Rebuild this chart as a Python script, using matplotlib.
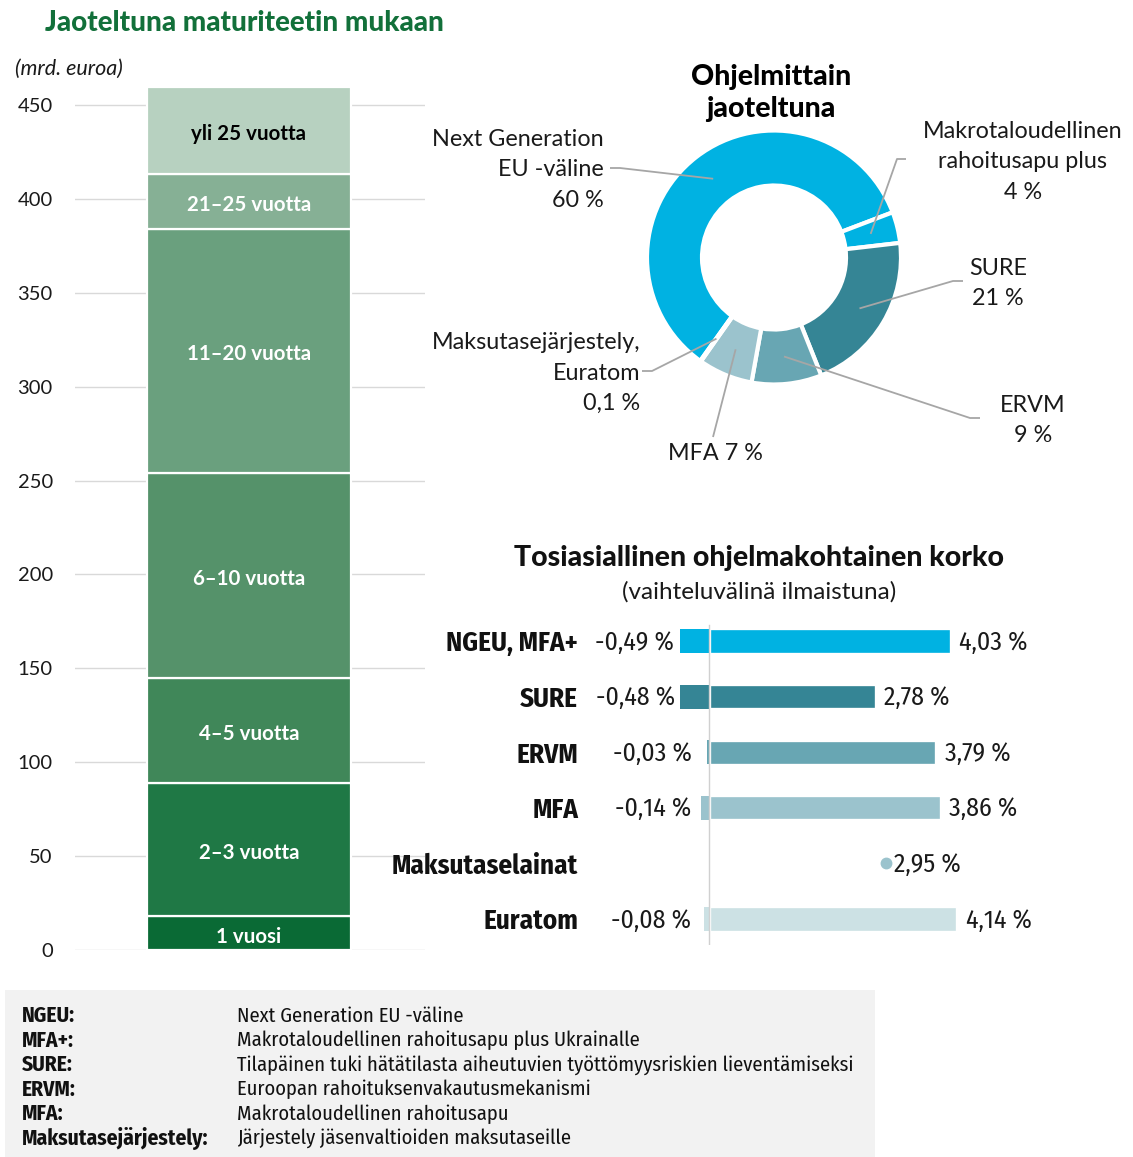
import matplotlib
matplotlib.use('Agg')
import matplotlib.pyplot as plt
from matplotlib import font_manager
from matplotlib.patches import Rectangle
import numpy as np

names = {f.name for f in font_manager.fontManager.ttflist}
MAIN = 'Lato' if 'Lato' in names else 'DejaVu Sans'
COND = MAIN
for cand in ('Fira Sans Condensed', 'IBM Plex Sans Condensed', 'Asap Condensed', 'Liberation Sans Narrow'):
    if cand in names:
        COND = cand
        break
plt.rcParams['font.family'] = [MAIN, 'DejaVu Sans']

# ---------------- data ----------------
maturity_labels = ['1 vuosi', '2–3 vuotta', '4–5 vuotta', '6–10 vuotta',
                   '11–20 vuotta', '21–25 vuotta', 'yli 25 vuotta']
maturity_values = [18, 71, 56, 109, 130, 29, 46.5]
maturity_colors = ['#0A6A35', '#1F7845', '#408759', '#55926A',
                   '#6AA07E', '#86B095', '#B7D1C0']
y_ticks = [0, 50, 100, 150, 200, 250, 300, 350, 400, 450]

programme_labels = ['Next Generation\nEU -väline\n60 %',
                    'Makrotaloudellinen\nrahoitusapu plus\n4 %',
                    'SURE\n21 %', 'ERVM\n9 %', 'MFA 7 %',
                    'Maksutasejärjestely,\nEuratom\n0,1 %']
programme_shares = [60, 4, 21, 9, 7, 0.1]
programme_colors = ['#00B2E2', '#00B2E2', '#358595', '#68A6B3', '#9BC3CD', '#CCE1E4']

rate_categories = ['NGEU, MFA+', 'SURE', 'ERVM', 'MFA', 'Maksutaselainat', 'Euratom']
rate_low = [-0.49, -0.48, -0.03, -0.14, None, -0.08]
rate_high = [4.03, 2.78, 3.79, 3.86, 2.95, 4.14]
rate_colors = ['#00B2E2', '#358595', '#68A6B3', '#9BC3CD', '#9BC3CD', '#CCE1E4']

abbrev_terms = ['NGEU:', 'MFA+:', 'SURE:', 'ERVM:', 'MFA:', 'Maksutasejärjestely:']
abbrev_desc = ['Next Generation EU -väline',
               'Makrotaloudellinen rahoitusapu plus Ukrainalle',
               'Tilapäinen tuki hätätilasta aiheutuvien työttömyysriskien lieventämiseksi',
               'Euroopan rahoituksenvakautusmekanismi',
               'Makrotaloudellinen rahoitusapu',
               'Järjestely jäsenvaltioiden maksutaseille']

def fmt(v):
    return ('%.2f %%' % v).replace('.', ',')

# ---------------- figure ----------------
W, H = 1133, 1157
fig = plt.figure(figsize=(W / 100, H / 100), dpi=100)
fig.patch.set_facecolor('white')

def ax_px(x0, y0, x1, y1, **kw):
    return fig.add_axes([x0 / W, 1 - y1 / H, (x1 - x0) / W, (y1 - y0) / H], **kw)

ov = ax_px(0, 0, W, H)
ov.set_xlim(0, W)
ov.set_ylim(H, 0)
ov.axis('off')
ov.set_zorder(10)
ov.patch.set_alpha(0)

# ---------------- stacked maturity bar ----------------
pxu = (950 - 105) / 450.0
top_val = 460
axb = ax_px(75, 950 - top_val * pxu, 425, 950)
bottoms = np.concatenate([[0], np.cumsum(maturity_values)[:-1]])
axb.bar([0.497] * len(maturity_values), maturity_values, bottom=bottoms, width=0.583,
        color=maturity_colors, edgecolor='white', linewidth=1.6, zorder=3)
for lab, v, b in zip(maturity_labels, maturity_values, bottoms):
    axb.annotate(lab, (0.497, b + v / 2), xytext=(0, -2.5), textcoords='offset points',
                 ha='center', va='center', fontsize=14.8, fontweight='bold',
                 color='black' if lab.startswith('yli') else 'white', zorder=4)
axb.set_xlim(0, 1)
axb.set_ylim(0, top_val)
axb.set_yticks(y_ticks)
axb.set_yticklabels([str(t) for t in y_ticks], fontsize=14.5, color='#1A1A1A')
axb.set_xticks([])
axb.yaxis.grid(True, color='#D9D9D9', linewidth=1)
axb.set_axisbelow(True)
axb.tick_params(axis='y', length=0, pad=16)
for s in axb.spines.values():
    s.set_visible(False)
axb.patch.set_alpha(0)

ov.text(45, 23, 'Jaoteltuna maturiteetin mukaan', fontsize=20, fontweight='black',
        color='#12703A', ha='left', va='center')
ov.text(15, 69, '(mrd. euroa)', fontsize=15.5, style='italic', color='#1A1A1A',
        ha='left', va='center')

# ---------------- donut ----------------
cx, cy, R_out, R_in, half = 774, 257.5, 127, 72, 140
axd = ax_px(cx - half, cy - half, cx + half, cy + half)
start_cw = 215.5
axd.pie(programme_shares, colors=programme_colors, startangle=90 - start_cw,
        counterclock=False, radius=R_out / half,
        wedgeprops=dict(width=(R_out - R_in) / half, edgecolor='white', linewidth=3))
axd.set_xlim(-1, 1)
axd.set_ylim(-1, 1)
axd.set_aspect('equal')
axd.axis('off')

ov.text(cx - 3, 93, 'Ohjelmittain\njaoteltuna', fontsize=20.5, fontweight='black',
        ha='center', va='center', linespacing=1.25)

total = float(sum(programme_shares))
cum = np.cumsum(programme_shares)
mids = start_cw + 360 * (cum - np.array(programme_shares) / 2) / total
r_mid = (R_out + R_in) / 2 / half

label_pos = [
    (604, 170, 'right', 610, 168, 10),
    (1023, 162, 'center', 906, 159, -9),
    (998, 283.5, 'center', 963, 281, -10),
    (1033, 420.5, 'center', 980, 418, -10),
    (715, 454, 'center', 713, 437, 0),
    (640, 373, 'right', 642, 371, 10),
]
for lab, ang, (tx, ty, ha, lx, ly, edx) in zip(programme_labels, mids, label_pos):
    ov.text(tx, ty, lab, fontsize=16.8, ha=ha, va='center', multialignment=ha,
            linespacing=1.55, color='#1A1A1A')
    th = np.deg2rad(ang)
    disp = axd.transData.transform((r_mid * np.sin(th), r_mid * np.cos(th)))
    px, py = ov.transData.inverted().transform(disp)
    xs = [lx, lx + edx, px] if edx else [lx, px]
    ys = [ly, ly, py] if edx else [ly, py]
    ov.plot(xs, ys, color='#A6A6A6', linewidth=1.3, solid_capstyle='butt')

# ---------------- interest-rate ranges ----------------
zero_px, upx = 709, 60.0
row0, drow = 641, 55.6
ax_top, ax_bot, ax_l, ax_r = 615, 945, 590, 1060
axr = ax_px(ax_l, ax_top, ax_r, ax_bot)
axr.set_xlim((ax_l - zero_px) / upx, (ax_r - zero_px) / upx)
axr.set_ylim((ax_bot - row0) / drow, (ax_top - row0) / drow)
ypos = np.arange(len(rate_categories))
VAL_FS = 18.6
for i, (lo, hi, c) in enumerate(zip(rate_low, rate_high, rate_colors)):
    if lo is None:
        axr.plot(hi, i, 'o', color=c, markersize=7.5, zorder=4)
        axr.annotate(fmt(hi), (hi, i), xytext=(6, -1), textcoords='offset points',
                     ha='left', va='center', fontsize=VAL_FS, family=COND, color='#1A1A1A')
        continue
    axr.barh(i, hi, left=0, height=0.45, color=c, edgecolor='white', linewidth=2.4, zorder=2)
    axr.barh(i, lo, left=0, height=0.43, color=c, edgecolor='none', zorder=2)
    axr.annotate(fmt(hi), (hi, i), xytext=(6, -1), textcoords='offset points',
                 ha='left', va='center', fontsize=VAL_FS, family=COND, color='#1A1A1A')
    axr.annotate(fmt(lo), (min(lo, -0.2), i), xytext=(-4, -1), textcoords='offset points',
                 ha='right', va='center', fontsize=VAL_FS, family=COND, color='#1A1A1A')
axr.axvline(0, ymin=0, ymax=(ax_bot - 625) / (ax_bot - ax_top), color='#D0D0D0',
            linewidth=1.0, zorder=3)
axr.set_yticks(ypos)
axr.set_yticklabels(rate_categories, fontsize=19.5, fontweight='bold', family=COND,
                    color='#111111')
axr.tick_params(axis='y', length=0, pad=8.5)
axr.set_xticks([])
for s in axr.spines.values():
    s.set_visible(False)
axr.patch.set_alpha(0)

ov.text(759, 558, 'Tosiasiallinen ohjelmakohtainen korko', fontsize=20.5, fontweight='black',
        ha='center', va='center', color='#111111')
ov.text(759, 592, '(vaihteluvälinä ilmaistuna)', fontsize=17.5, ha='center', va='center',
        color='#1A1A1A')

# ---------------- abbreviation box ----------------
ov.add_patch(Rectangle((5, 990), 870, H - 990, facecolor='#F2F2F2', edgecolor='none', zorder=0))
for k, (t, d) in enumerate(zip(abbrev_terms, abbrev_desc)):
    yy = 1016 + k * 24.5
    ov.text(22, yy, t, fontsize=15.5, fontweight='bold', family=COND, ha='left',
            va='center', color='#111111')
    ov.text(237, yy, d, fontsize=14.75, family=COND, ha='left', va='center', color='#111111')

fig.savefig('out.png', dpi=100)
